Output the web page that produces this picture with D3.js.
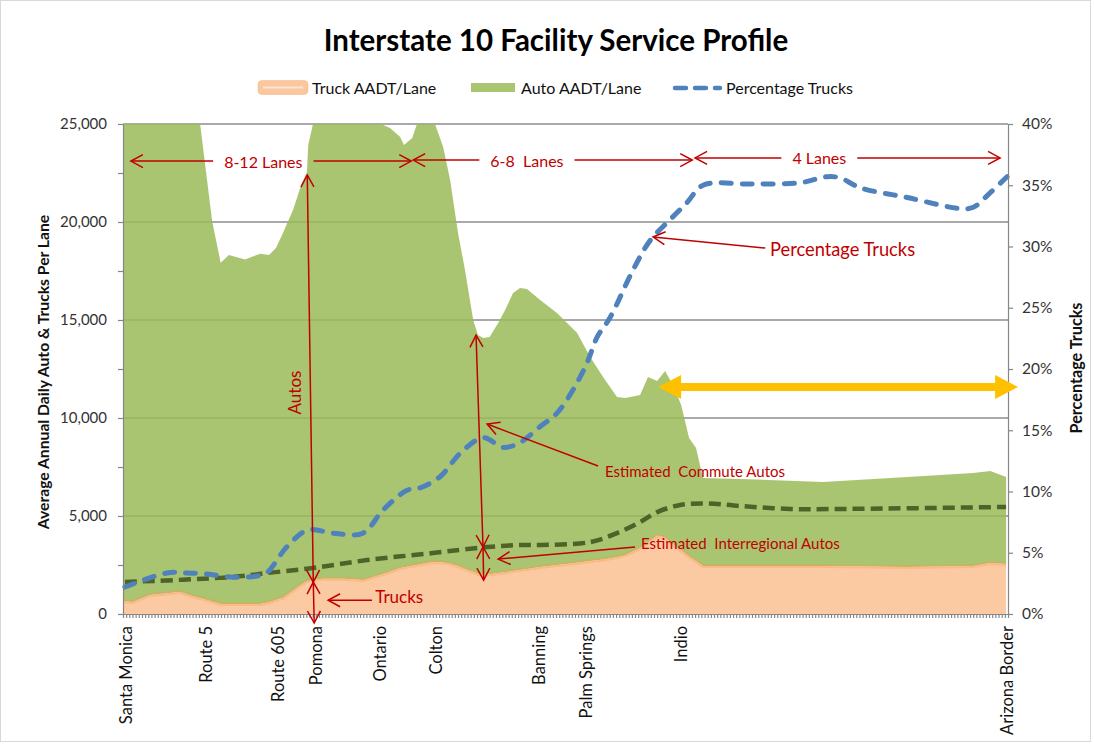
<!DOCTYPE html>
<html>
<head>
<meta charset="utf-8">
<script src="https://cdn.jsdelivr.net/npm/d3@7"></script>
<style>
  body { margin: 0; background: #fff; }
  svg { font-family: Lato, "Open Sans", sans-serif; }
</style>
</head>
<body>
<div id="chart"></div>
<script>
// position along the route (category index, 280 categories on the axis)
const routePos = [0, 3, 8.5, 18, 23, 24.4, 28.2, 30.9, 33.5, 38.6, 43.4, 46.2, 48.4, 50.6, 53.8, 56.6,
  58.2, 58.6, 60.1, 63, 70, 76, 81.6, 84.5, 87.7, 88.9, 91.5, 93, 96, 98.7, 101.3, 103.5, 106, 108.2,
  110.8, 112.3, 114, 116, 118.7, 120.9, 123.4, 125.6, 127.8, 132, 137.3, 143.7, 147.8, 151.9, 156.3,
  158.9, 163.6, 166.1, 169, 171.5, 174, 176.6, 179.1, 181.3, 183.5, 195.3, 221.5, 248.1, 269, 274.4, 279.4];

const truckAadt = [660, 610, 970, 1120, 870, 820, 640, 510, 510, 510, 510, 600, 720, 830, 1200, 1520,
  1680, 1690, 1730, 1800, 1800, 1730, 2000, 2150, 2350, 2380, 2460, 2500, 2600, 2650, 2630, 2570, 2450, 2300,
  2150, 2050, 1990, 2030, 2090, 2130, 2200, 2250, 2300, 2400, 2500, 2620, 2700, 2780, 2900,
  3000, 3370, 3650, 4000, 3900, 3550, 3250, 2940, 2700, 2450, 2450, 2450, 2400, 2450, 2600, 2550];

const autoAadt = [25840, 25890, 25530, 25380, 25330, 24180, 19410, 17410, 17810, 17580, 17870, 17720, 17950, 18610, 19410, 20470,
  20870, 22240, 23270, 24700, 25000, 24770, 23000, 22650, 21990, 21550, 21830, 22500, 23600, 22350, 21200, 19570, 16990, 15250,
  12850, 12180, 12090, 12100, 12760, 13380, 14180, 14380, 14280, 13620, 12860, 11720, 10410, 9310, 8170,
  8020, 7800, 8440, 7890, 8500, 8140, 7410, 6040, 5770, 4490, 4440, 4280, 4590, 4740, 4700, 4440];

// percentage trucks (right axis)
const pctPos = [0.6, 13.9, 20.3, 26.6, 34.8, 42.4, 45.6, 51.9, 58.5, 66.5, 75.9, 82.3, 89.9, 94, 100.3, 106.6,
  114, 120.3, 125.6, 132, 137.3, 142.4, 146.8, 150, 154.1, 161.4, 166.8, 173.1, 178.5, 183.5, 198.4, 214.2,
  222.8, 226.9, 233.2, 248.1, 264.9, 269, 274.4, 279.7];
const pctTrucks = [2.2, 3.35, 3.35, 3.27, 3.0, 3.1, 3.4, 5.5, 6.86, 6.6, 6.6, 8.5, 10.1, 10.3, 11.2, 13.1,
  14.4, 13.6, 14.0, 15.3, 16.4, 18.3, 20.5, 22.6, 24.2, 28.1, 30.5, 32.2, 33.6, 35.0, 35.1, 35.2,
  35.7, 35.6, 34.8, 34.0, 33.1, 33.2, 34.4, 35.7];

// estimated interregional autos (dark dashed line, left axis)
const interPos = [0.6, 34.8, 45.6, 60.1, 77.2, 98, 114, 125.6, 132, 147.8, 156.3, 163.6, 169, 176.3, 184.8, 195.3, 211, 226.9, 279.4];
const interAutos = [1630, 1890, 2090, 2350, 2750, 3110, 3400, 3520, 3520, 3670, 4130, 4690, 5200, 5560, 5640, 5510, 5360, 5360, 5460];

const places = ["Santa Monica", "Route 5", "Route 605", "Pomona", "Ontario", "Colton", "Banning", "Palm Springs", "Indio", "Arizona Border"];
const placePos = [0.8, 26.3, 48.9, 61.1, 81.3, 99, 131.6, 146.5, 176.6, 279.7];

const leftTicks = [0, 5000, 10000, 15000, 20000, 25000];
const rightTicks = [0, 5, 10, 15, 20, 25, 30, 35, 40];

const red = "#C00000";
const width = 1094, height = 745;
const plot = { left: 123, right: 1008, top: 124, bottom: 614 };

const svg = d3.select("#chart").append("svg")
  .attr("width", width)
  .attr("height", height);

// chart border
svg.append("rect")
  .attr("x", 0.5).attr("y", 0.5)
  .attr("width", width - 4).attr("height", height - 4)
  .attr("fill", "none").attr("stroke", "#d9d9d9");

const x = d3.scaleLinear().domain([0, 280]).range([plot.left, plot.right]);
const yL = d3.scaleLinear().domain([0, 25000]).range([plot.bottom, plot.top]);
const yR = d3.scaleLinear().domain([0, 40]).range([plot.bottom, plot.top]);

const defs = svg.append("defs");
defs.append("clipPath").attr("id", "plotClip")
  .append("rect")
  .attr("x", plot.left).attr("y", plot.top)
  .attr("width", plot.right - plot.left).attr("height", plot.bottom - plot.top);

defs.append("marker")
  .attr("id", "head")
  .attr("viewBox", "-14 -8 16 16")
  .attr("refX", 0).attr("refY", 0)
  .attr("markerWidth", 16).attr("markerHeight", 16)
  .attr("markerUnits", "userSpaceOnUse")
  .attr("orient", "auto-start-reverse")
  .append("path")
  .attr("d", "M-12,-6.5 L0,0 L-12,6.5")
  .attr("fill", "none")
  .attr("stroke", red)
  .attr("stroke-width", 1.5);

// Gridlines
svg.append("g").selectAll("line")
  .data(leftTicks.filter(d => d > 0))
  .join("line")
  .attr("x1", plot.left).attr("x2", plot.right)
  .attr("y1", d => yL(d)).attr("y2", d => yL(d))
  .attr("stroke", "#8c8c8c")
  .attr("stroke-width", 1.3);

// Stacked areas
const rows = routePos.map((p, i) => ({ pos: p, truck: truckAadt[i], auto: autoAadt[i] }));
const stacked = d3.stack().keys(["truck", "auto"])(rows);

const area = d3.area()
  .x(d => x(d.data.pos))
  .y0(d => yL(d[0]))
  .y1(d => yL(d[1]));

const areas = svg.append("g").attr("clip-path", "url(#plotClip)");

areas.append("path")
  .datum(stacked[1])
  .attr("d", area)
  .attr("fill", "#9BBB59")
  .attr("fill-opacity", 0.85);

areas.append("path")
  .datum(stacked[0])
  .attr("d", area)
  .attr("fill", "#FBCAA2");

areas.append("path")
  .datum(stacked[0])
  .attr("d", d3.line().x(d => x(d.data.pos)).y(d => yL(d[1])))
  .attr("fill", "none")
  .attr("stroke", "#F79646")
  .attr("stroke-opacity", 0.3)
  .attr("stroke-width", 4);

// Lines
const interLine = d3.line()
  .x((d, i) => x(interPos[i]))
  .y(d => yL(d))
  .curve(d3.curveCatmullRom.alpha(0.5));

svg.append("path")
  .datum(interAutos)
  .attr("d", interLine)
  .attr("fill", "none")
  .attr("stroke", "#4F6228")
  .attr("stroke-width", 4.5)
  .attr("stroke-dasharray", "12,6");

const pctLine = d3.line()
  .x((d, i) => x(pctPos[i]))
  .y(d => yR(d))
  .curve(d3.curveCatmullRom.alpha(0.5));

svg.append("path")
  .datum(pctTrucks)
  .attr("d", pctLine)
  .attr("fill", "none")
  .attr("stroke", "#4F81BD")
  .attr("stroke-width", 5)
  .attr("stroke-linecap", "round")
  .attr("stroke-dasharray", "10,11");

// Axes
const axisColor = "#868686";
const xAxis = svg.append("g")
  .attr("transform", "translate(0," + plot.bottom + ")")
  .call(d3.axisBottom(x).tickValues(d3.range(0, 281)).tickSize(4).tickSizeOuter(0).tickFormat(""));

const leftAxis = svg.append("g")
  .attr("transform", "translate(" + plot.left + ",0)")
  .call(d3.axisLeft(yL).tickValues(d3.range(0, 25001, 2500)).tickSize(5).tickSizeOuter(0)
    .tickFormat(d => d % 5000 === 0 ? d3.format(",")(d) : ""));

const rightAxis = svg.append("g")
  .attr("transform", "translate(" + plot.right + ",0)")
  .call(d3.axisRight(yR).tickValues(rightTicks).tickSize(5).tickSizeOuter(0)
    .tickFormat(d => d + "%"));

[xAxis, leftAxis, rightAxis].forEach(a => {
  a.selectAll("path, line").attr("stroke", axisColor).attr("stroke-width", 1.2);
  a.selectAll("text").attr("font-size", 15).attr("fill", "#333")
    .attr("font-family", "Lato, sans-serif");
});
leftAxis.selectAll("text").attr("x", -16);
rightAxis.selectAll("text").attr("x", 14).attr("font-size", 15.5);

// x labels
svg.append("g").selectAll("text")
  .data(places)
  .join("text")
  .attr("transform", (d, i) => "translate(" + x(placePos[i]) + "," + (plot.bottom + 12) + ") rotate(-90)")
  .attr("text-anchor", "end")
  .attr("dominant-baseline", "central")
  .attr("font-size", 16.5)
  .attr("fill", "#111")
  .text(d => d);

// axis titles
svg.append("text")
  .attr("transform", "translate(43," + ((plot.top + plot.bottom) / 2 + 3) + ") rotate(-90)")
  .attr("text-anchor", "middle")
  .attr("dominant-baseline", "central")
  .attr("font-size", 15.7)
  .attr("font-weight", "bold")
  .attr("fill", "#111")
  .text("Average Annual Daily Auto & Trucks Per Lane");

svg.append("text")
  .attr("transform", "translate(1075," + ((plot.top + plot.bottom) / 2 - 1) + ") rotate(-90)")
  .attr("text-anchor", "middle")
  .attr("dominant-baseline", "central")
  .attr("font-size", 16.2)
  .attr("font-weight", "bold")
  .attr("fill", "#111")
  .text("Percentage Trucks");

// Title
svg.append("text")
  .attr("x", 556).attr("y", 51)
  .attr("text-anchor", "middle")
  .attr("font-size", 29.5)
  .attr("font-weight", "bold")
  .attr("fill", "#000")
  .text("Interstate 10 Facility Service Profile");

// Legend
const legend = svg.append("g").attr("font-size", 16).attr("fill", "#111");
legend.append("rect")
  .attr("x", 258).attr("y", 80.5).attr("width", 50).attr("height", 14).attr("rx", 4)
  .attr("fill", "#FBC7A0").attr("stroke", "#F79646").attr("stroke-opacity", 0.3);
legend.append("line")
  .attr("x1", 263).attr("x2", 303).attr("y1", 87.5).attr("y2", 87.5)
  .attr("stroke", "#FDE3CF").attr("stroke-width", 2);
legend.append("text").attr("x", 312).attr("y", 93.5).text("Truck AADT/Lane");
legend.append("rect")
  .attr("x", 471).attr("y", 83).attr("width", 44).attr("height", 9)
  .attr("fill", "#9BBB59").attr("fill-opacity", 0.85);
legend.append("text").attr("x", 521).attr("y", 93.5).text("Auto AADT/Lane");
legend.append("line")
  .attr("x1", 675).attr("x2", 720).attr("y1", 88).attr("y2", 88)
  .attr("stroke", "#4F81BD").attr("stroke-width", 4.5)
  .attr("stroke-linecap", "round").attr("stroke-dasharray", "11,9");
legend.append("text").attr("x", 726).attr("y", 93.5).text("Percentage Trucks");

// Annotations
const ann = svg.append("g").attr("fill", red).attr("font-size", 16);

function redArrow(x1, y1, x2, y2, startHead, endHead) {
  const l = ann.append("line")
    .attr("x1", x1).attr("y1", y1).attr("x2", x2).attr("y2", y2)
    .attr("stroke", red).attr("stroke-width", 1.5);
  if (startHead) l.attr("marker-start", "url(#head)");
  if (endHead) l.attr("marker-end", "url(#head)");
}

const lanes = [
  { label: "8-12 Lanes", from: 2.5, to: 91.2, mid: 44.4, level: 23110 },
  { label: "6-8  Lanes", from: 91.8, to: 180.1, mid: 127.8, level: 23160 },
  { label: "4 Lanes", from: 181, to: 277.5, mid: 220.3, level: 23270 }
];

lanes.forEach(l => {
  const cx = x(l.mid), cy = yL(l.level);
  const t = ann.append("text")
    .attr("x", cx).attr("y", cy)
    .attr("text-anchor", "middle")
    .attr("dominant-baseline", "central")
    .style("white-space", "pre")
    .text(l.label);
  const half = t.node().getComputedTextLength() / 2 + 11;
  redArrow(x(l.from), cy, cx - half, cy, true, false);
  redArrow(cx + half, cy, x(l.to), cy, false, true);
});

// vertical measurement arrows
redArrow(x(58.3), yL(22400), x(60.2), yL(1630), true, true);
redArrow(x(60.2), yL(1630), x(60.5), yL(-460), true, true);
redArrow(x(111.7), yL(14230), x(113.9), yL(3420), true, true);
redArrow(x(113.9), yL(3420), x(114.1), yL(1730), true, true);

ann.append("text")
  .attr("transform", "translate(" + (x(58.3) - 6) + "," + yL(11300) + ") rotate(-90)")
  .attr("text-anchor", "middle")
  .attr("font-size", 17)
  .text("Autos");

// pointer arrows with labels
const pointers = [
  { label: "Trucks", tx: 79.8, ty: 900, fx: 78.8, fy: 700, hx: 64.9, hy: 700, size: 17 },
  { label: "Estimated  Commute Autos", tx: 152.5, ty: 7300, fx: 150.3, fy: 7550, hx: 115.2, hy: 9690, size: 15 },
  { label: "Estimated  Interregional Autos", tx: 163.9, ty: 3620, fx: 162, fy: 3420, hx: 118.7, hy: 2800, size: 15 },
  { label: "Percentage Trucks", tx: 204.7, ty: 18620, fx: 203.2, fy: 18670, hx: 167.7, hy: 19235, size: 18.3 }
];

pointers.forEach(p => {
  ann.append("text")
    .attr("x", x(p.tx)).attr("y", yL(p.ty))
    .attr("dominant-baseline", "central")
    .attr("font-size", p.size)
    .style("white-space", "pre")
    .text(p.label);
  redArrow(x(p.fx), yL(p.fy), x(p.hx), yL(p.hy), false, true);
});

// yellow double arrow
const ya = { from: 169.3, to: 283.2, level: 11580 };
const yx1 = x(ya.from), yx2 = x(ya.to), yy = yL(ya.level);
const hl = 23, hw = 12, bw = 4;
svg.append("path")
  .attr("d", [
    "M", yx1, yy,
    "L", yx1 + hl, yy - hw,
    "L", yx1 + hl, yy - bw,
    "L", yx2 - hl, yy - bw,
    "L", yx2 - hl, yy - hw,
    "L", yx2, yy,
    "L", yx2 - hl, yy + hw,
    "L", yx2 - hl, yy + bw,
    "L", yx1 + hl, yy + bw,
    "L", yx1 + hl, yy + hw, "Z"
  ].join(" "))
  .attr("fill", "#FFC000");
</script>
</body>
</html>
